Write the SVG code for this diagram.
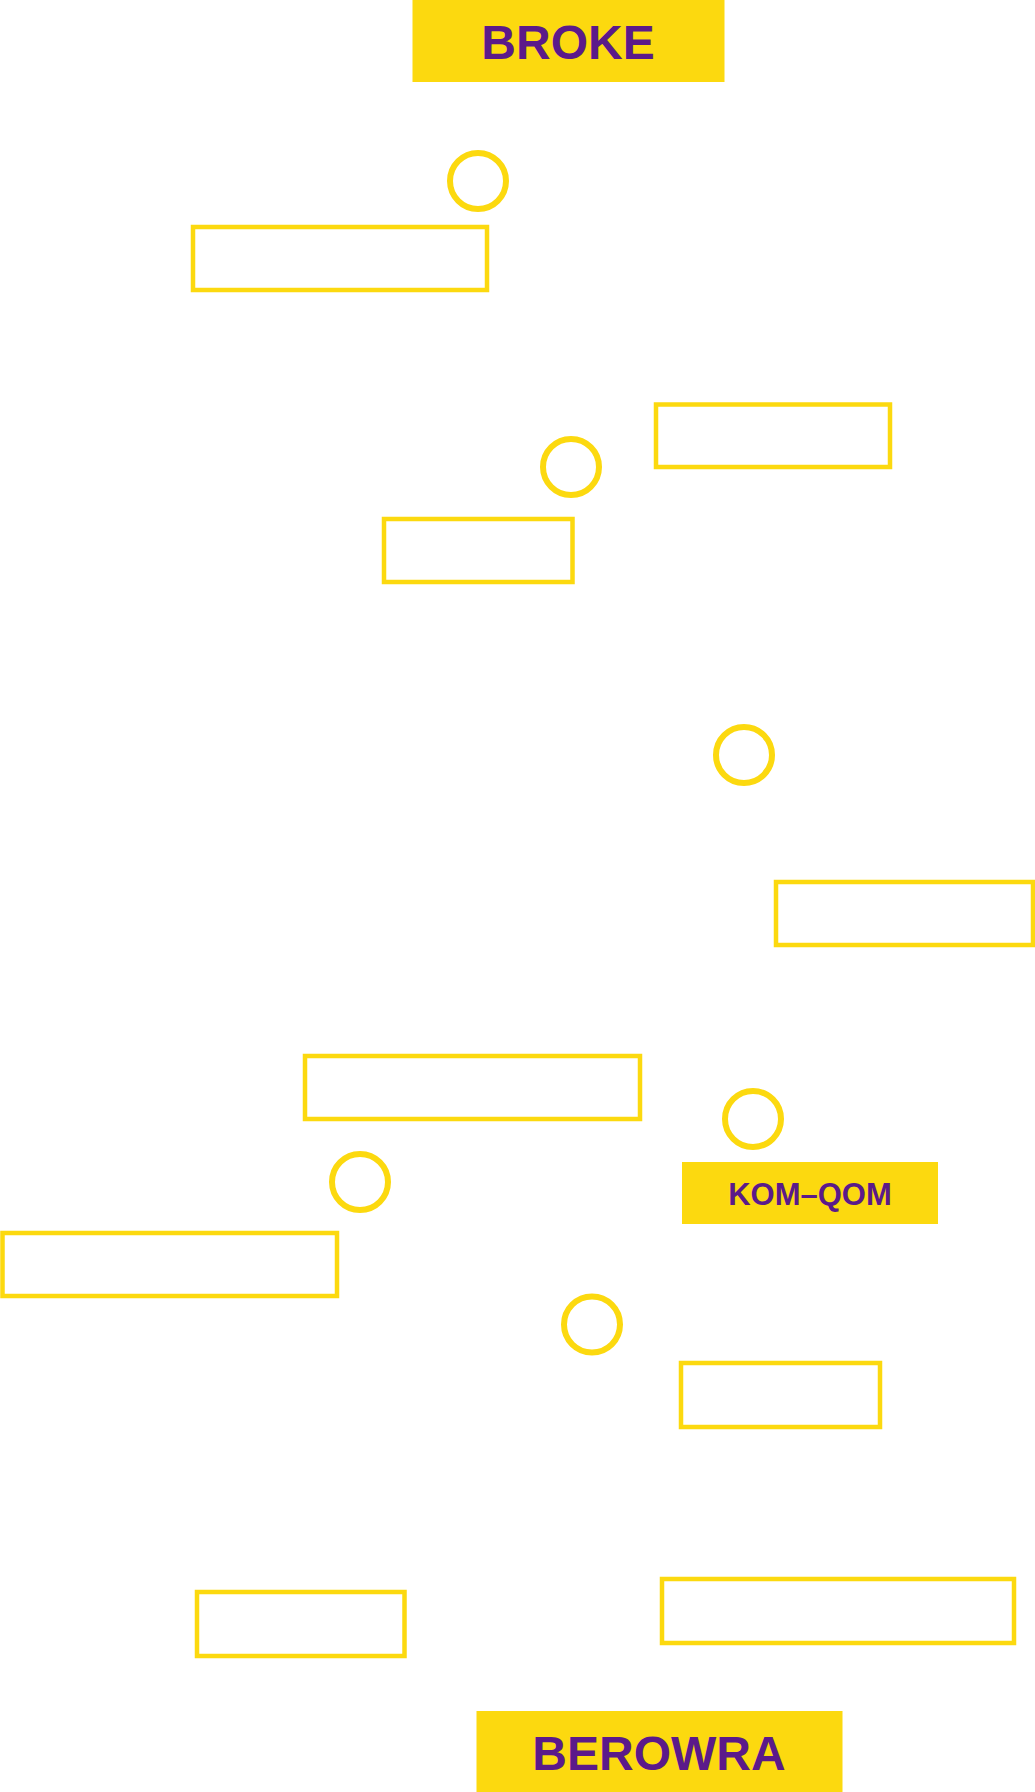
<svg xmlns="http://www.w3.org/2000/svg" width="1035" height="1792" viewBox="0 0 1035 1792">
<style>
.box{fill:none;stroke:#FCD90F;stroke-width:4.5}
.c{fill:none;stroke:#FCD90F;stroke-width:6}
.fill{fill:#FCD90F}
.t{font-family:"Liberation Sans",Arial,sans-serif;font-weight:bold;fill:#5B1A8A;text-anchor:middle;dominant-baseline:central}
</style>
<rect width="1035" height="1792" fill="#fff"/>
<g id="broke"><rect class="fill" x="412.5" y="0" width="312" height="82"/><text class="t" x="568" y="42" font-size="48">BROKE</text></g>
<g id="komqom"><rect class="fill" x="682" y="1162" width="256" height="62"/><text class="t" x="810" y="1194" font-size="31">KOM–QOM</text></g>
<g id="berowra"><rect class="fill" x="476.5" y="1711" width="366" height="81"/><text class="t" x="659" y="1753" font-size="48">BEROWRA</text></g>
<g id="r1"><rect class="box" x="193" y="227" width="294" height="63"/></g>
<g id="r2"><rect class="box" x="656" y="404.5" width="234" height="62.5"/></g>
<g id="r3"><rect class="box" x="384" y="519" width="188.5" height="63"/></g>
<g id="r4"><rect class="box" x="776" y="882" width="257" height="63"/></g>
<g id="r5"><rect class="box" x="305" y="1056" width="335" height="63"/></g>
<g id="r6"><rect class="box" x="2.5" y="1233" width="334.5" height="63"/></g>
<g id="r7"><rect class="box" x="681" y="1363" width="199" height="64"/></g>
<g id="r8"><rect class="box" x="197" y="1592" width="207.5" height="64"/></g>
<g id="r9"><rect class="box" x="662" y="1579" width="352" height="64"/></g>
<g id="c1"><circle class="c" cx="478" cy="181" r="28"/></g>
<g id="c2"><circle class="c" cx="571" cy="467" r="28"/></g>
<g id="c3"><circle class="c" cx="744" cy="755" r="28"/></g>
<g id="c4"><circle class="c" cx="753" cy="1119" r="28"/></g>
<g id="c5"><circle class="c" cx="360" cy="1182" r="28"/></g>
<g id="c6"><circle class="c" cx="592" cy="1324.5" r="28"/></g>
<g id="connectors"></g>
</svg>
